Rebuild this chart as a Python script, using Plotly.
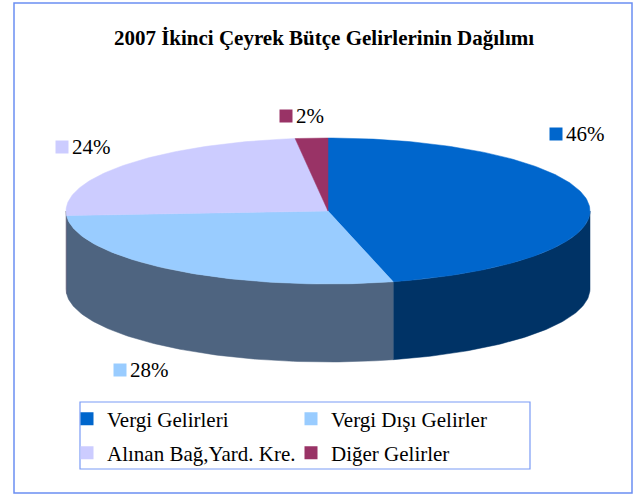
import numpy as np
import plotly.graph_objects as go

# ---------------- data ----------------
CATEGORIES = ['Vergi Gelirleri', 'Vergi Dışı Gelirler', 'Alınan Bağ,Yard. Kre.', 'Diğer Gelirler']
VALUES = [46, 28, 24, 2]
TITLE = '2007 İkinci Çeyrek Bütçe Gelirlerinin Dağılımı'

# ---------------- style ----------------
TOP_COLORS = ['#0066CC', '#99CCFF', '#CCCCFF', '#993366']
SIDE_COLORS = ['#003366', '#4E6480', '#66667F', '#4D1A33']
FONT = 'Liberation Serif'
W, H = 636, 496
CX, CY, RX, RY, DEPTH = 328, 211, 262, 73, 78       # pie geometry in pixel space
LABEL_POS = [(556, 134), (120, 370), (62, 147), (286, 116)]  # data label anchors
LEGEND_ROW = [0, 0, 1, 1]

fig = go.Figure()

total = float(sum(VALUES))
cum = np.concatenate([[0], np.cumsum(VALUES)]) / total
t_start = 90 - cum[:-1] * 360   # degrees, clockwise from 12 o'clock
t_end = 90 - cum[1:] * 360


def arc(t0, t1):
    t = np.radians(np.linspace(t0, t1, max(int(abs(t1 - t0)) + 2, 3)))
    return CX + RX * np.cos(t), CY - RY * np.sin(t)


# side walls (front half only: angles between -180 and 0)
for i in range(len(VALUES)):
    lo, hi = max(t_end[i], -180), min(t_start[i], 0)
    if hi <= lo:
        continue
    xs, ys = arc(hi, lo)
    px = np.concatenate([xs, xs[::-1], xs[:1]])
    py = np.concatenate([ys, ys[::-1] + DEPTH, ys[:1]])
    fig.add_trace(go.Scatter(x=px, y=py, mode='lines', fill='toself',
                             fillcolor=SIDE_COLORS[i], line=dict(color=SIDE_COLORS[i], width=0.5),
                             hoverinfo='skip', showlegend=False))

# top faces
for i in range(len(VALUES)):
    xs, ys = arc(t_start[i], t_end[i])
    px = np.concatenate([[CX], xs, [CX]])
    py = np.concatenate([[CY], ys, [CY]])
    fig.add_trace(go.Scatter(x=px, y=py, mode='lines', fill='toself',
                             fillcolor=TOP_COLORS[i], line=dict(color=TOP_COLORS[i], width=0.5),
                             name=CATEGORIES[i], legendgroup=CATEGORIES[i],
                             hovertemplate=f'{CATEGORIES[i]}: {VALUES[i]}%<extra></extra>',
                             showlegend=False))

# data labels (marker key + percentage text)
for i in range(len(VALUES)):
    lx, ly = LABEL_POS[i]
    fig.add_trace(go.Scatter(x=[lx], y=[ly], mode='markers',
                             marker=dict(symbol='square', size=13, color=TOP_COLORS[i]),
                             hoverinfo='skip', showlegend=False))
    fig.add_annotation(x=lx + 8, y=ly, xref='x', yref='y', xanchor='left', yanchor='middle',
                       text=f'{round(VALUES[i] / total * 100)}%', showarrow=False,
                       font=dict(family=FONT, size=21, color='black'))

# legend entries
for i in range(len(VALUES)):
    fig.add_trace(go.Scatter(x=[None], y=[None], mode='markers',
                             marker=dict(symbol='square', size=13, color=TOP_COLORS[i]),
                             name=CATEGORIES[i], legendgroup=CATEGORIES[i],
                             legend='legend' if LEGEND_ROW[i] == 0 else 'legend2',
                             showlegend=True))

legend_common = dict(orientation='h', xanchor='left', yanchor='middle',
                     entrywidth=179, entrywidthmode='pixels',
                     font=dict(family=FONT, size=21, color='black'),
                     bgcolor='rgba(0,0,0,0)', borderwidth=0, itemclick=False)

fig.update_layout(
    width=W, height=H,
    margin=dict(l=0, r=0, t=0, b=0),
    paper_bgcolor='white', plot_bgcolor='white',
    font=dict(family=FONT),
    xaxis=dict(range=[0, W], visible=False, fixedrange=True),
    yaxis=dict(range=[H, 0], visible=False, fixedrange=True),
    title=dict(text=f'<b>{TITLE}</b>', x=324 / W, xanchor='center',
               y=1 - 38 / H, yanchor='middle', font=dict(family=FONT, size=21, color='black')),
    legend=dict(x=67 / W, y=1 - 419 / H, **legend_common),
    legend2=dict(x=67 / W, y=1 - 453 / H, **legend_common),
    shapes=[
        dict(type='rect', xref='x', yref='y', x0=14, y0=3, x1=632, y1=493,
             line=dict(color='#6B8EF2', width=1.5), layer='below'),
        dict(type='rect', xref='x', yref='y', x0=80, y0=402, x1=530, y1=469,
             line=dict(color='#7A9BF5', width=1.2), layer='below'),
    ],
    showlegend=True,
)

fig.write_html('out.html', config={'displayModeBar': False},
               post_script="document.body.style.margin='0';")
